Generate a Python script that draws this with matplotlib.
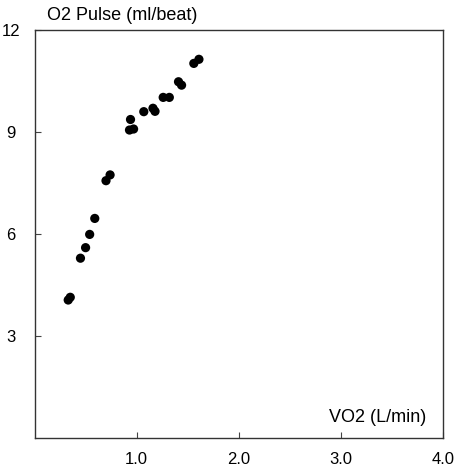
import matplotlib
matplotlib.use("Agg")
import matplotlib.pyplot as plt

# O2 pulse vs VO2 readings
vo2 = [0.33, 0.35, 0.45, 0.50, 0.54, 0.59, 0.70, 0.74, 0.93, 0.97, 0.94,
       1.07, 1.16, 1.18, 1.26, 1.32, 1.41, 1.44, 1.56, 1.61]
o2_pulse = [4.06, 4.14, 5.29, 5.60, 5.99, 6.46, 7.57, 7.74, 9.06, 9.09, 9.37,
            9.60, 9.70, 9.61, 10.02, 10.02, 10.48, 10.38, 11.02, 11.14]

x_ticks = [1.0, 2.0, 3.0, 4.0]
x_tick_labels = ["1.0", "2.0", "3.0", "4.0"]
y_ticks = [3, 6, 9, 12]
y_tick_labels = ["3", "6", "9", "12"]

plt.rcParams['font.family'] = ['Liberation Sans', 'DejaVu Sans']

fig = plt.figure(figsize=(4.56, 4.70), dpi=100)
ax = fig.add_axes([0.0757, 0.068, 0.8958, 0.868])

ax.scatter(vo2, o2_pulse, s=44, color="black", edgecolors="none", zorder=3)

ax.set_xlim(0, 4)
ax.set_ylim(0, 12)

ax.set_xticks(x_ticks)
ax.set_xticklabels(x_tick_labels)
ax.set_yticks(y_ticks)
ax.set_yticklabels(y_tick_labels, ha="center")

ax.tick_params(axis="x", direction="in", length=4, width=0.8, color="#444444",
               labelsize=12, pad=10)
ax.tick_params(axis="y", direction="in", length=4, width=0.8, color="#444444",
               labelsize=12, pad=17)

for spine in ax.spines.values():
    spine.set_linewidth(1.0)
    spine.set_color("#333333")

# axis titles sit inside / above the frame like the original
ax.text(0.03, 1.015, "O2 Pulse (ml/beat)", transform=ax.transAxes,
        fontsize=13, ha="left", va="bottom")
ax.text(0.96, 0.03, "VO2 (L/min)", transform=ax.transAxes,
        fontsize=13, ha="right", va="bottom")

fig.savefig("out.png", dpi=100)
